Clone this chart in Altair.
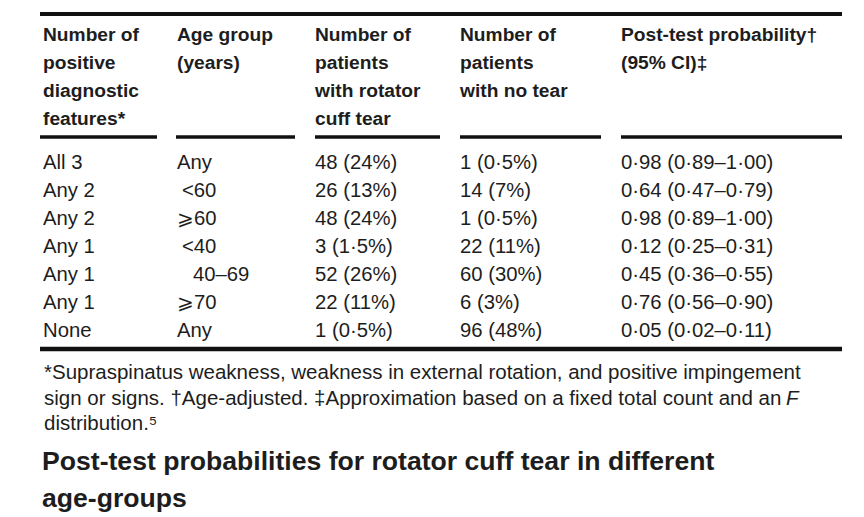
import altair as alt
import pandas as pd

# ---------------- data ----------------
features = ["All 3", "Any 2", "Any 2", "Any 1", "Any 1", "Any 1", "None"]
age_groups = ["Any", "<60", "\u2a7e60", "<40", "40\u201369", "\u2a7e70", "Any"]
with_tear = ["48 (24%)", "26 (13%)", "48 (24%)", "3 (1·5%)", "52 (26%)", "22 (11%)", "1 (0·5%)"]
no_tear = ["1 (0·5%)", "14 (7%)", "1 (0·5%)", "22 (11%)", "60 (30%)", "6 (3%)", "96 (48%)"]
post_prob = ["0·98 (0·89–1·00)", "0·64 (0·47–0·79)", "0·98 (0·89–1·00)", "0·12 (0·25–0·31)",
             "0·45 (0·36–0·55)", "0·76 (0·56–0·90)", "0·05 (0·02–0·11)"]
headers = [
    ["Number of", "positive", "diagnostic", "features*"],
    ["Age group", "(years)"],
    ["Number of", "patients", "with rotator", "cuff tear"],
    ["Number of", "patients", "with no tear"],
    ["Post-test probability\u2020", "(95% CI)\u2021"],
]
footnote = [
    "*Supraspinatus weakness, weakness in external rotation, and positive impingement",
    "sign or signs. \u2020Age-adjusted. \u2021Approximation based on a fixed total count and an",
    "distribution.\u2075",
]
footnote_italic = "F"
title_lines = ["Post-test probabilities for rotator cuff tear in different", "age-groups"]

# ---------------- layout (reference pixel space) ----------------
W, H = 848, 501
OFF = 8
COL_X = [43, 177, 315, 460, 621]
AGE_INDENT = [0, 5, 0, 5, 16, 0, 0]   # visual alignment of the age column
SEGMENTS = [(40, 157), (176, 295), (315, 440), (460, 601), (621, 842)]
TABLE_X = (40, 842)
TOP_RULE_Y, HEAD_RULE_Y, BOTTOM_RULE_Y = 14, 137, 349
HEAD_B0, HEAD_LH = 41, 28
ROW_B0, ROW_LH = 169, 28
FOOT_B0, FOOT_LH = 379, 25.5
TITLE_B0, TITLE_LH = 470, 36.5
ITALIC_F_X = 786

TEXT_COLOR = "#1d1d1d"
FONT = "Liberation Sans"

xs = alt.Scale(domain=[OFF, OFF + W], range=[0, W])
ys = alt.Scale(domain=[OFF, OFF + H], range=[0, H])

# header text
head_rows = []
for ci, lines in enumerate(headers):
    for li, t in enumerate(lines):
        head_rows.append({"x": COL_X[ci], "y": HEAD_B0 + li * HEAD_LH, "t": t})
head_df = pd.DataFrame(head_rows)

# body text
cols = [features, age_groups, with_tear, no_tear, post_prob]
body_rows = []
for ci, col in enumerate(cols):
    for ri, t in enumerate(col):
        indent = AGE_INDENT[ri] if ci == 1 else 0
        body_rows.append({"x": COL_X[ci] + indent, "y": ROW_B0 + ri * ROW_LH, "t": t})
body_df = pd.DataFrame(body_rows)

foot_df = pd.DataFrame([{"x": 44, "y": FOOT_B0 + i * FOOT_LH, "t": t} for i, t in enumerate(footnote)])
ital_df = pd.DataFrame([{"x": ITALIC_F_X, "y": FOOT_B0 + FOOT_LH, "t": footnote_italic}])
title_df = pd.DataFrame([{"x": 42, "y": TITLE_B0 + i * TITLE_LH, "t": t} for i, t in enumerate(title_lines)])

rules = [{"x": TABLE_X[0], "x2": TABLE_X[1], "y": TOP_RULE_Y, "w": 4},
         {"x": TABLE_X[0], "x2": TABLE_X[1], "y": BOTTOM_RULE_Y, "w": 4.5}]
rules += [{"x": a, "x2": b, "y": HEAD_RULE_Y, "w": 3.5} for a, b in SEGMENTS]
rule_df = pd.DataFrame(rules)


def text_layer(df, size, weight="normal", style="normal"):
    return alt.Chart(df).mark_text(
        align="left", baseline="alphabetic", font=FONT, fontSize=size,
        fontWeight=weight, fontStyle=style, color=TEXT_COLOR,
    ).encode(
        x=alt.X("x:Q", scale=xs, axis=None),
        y=alt.Y("y:Q", scale=ys, axis=None),
        text="t:N",
    )


rule_layer = alt.Chart(rule_df).mark_rule(color="#111111").encode(
    x=alt.X("x:Q", scale=xs, axis=None),
    x2="x2:Q",
    y=alt.Y("y:Q", scale=ys, axis=None),
    strokeWidth=alt.StrokeWidth("w:Q", scale=None, legend=None),
)

chart = alt.layer(
    rule_layer,
    text_layer(head_df, 19.2, "bold"),
    text_layer(body_df, 20.3),
    text_layer(foot_df, 20.5),
    text_layer(ital_df, 20.5, style="italic"),
    text_layer(title_df, 26.6, "bold"),
).properties(width=W, height=H, padding=0, background="white").configure_view(stroke=None)

chart.save("out.html", embed_options={"renderer": "svg", "actions": False})
